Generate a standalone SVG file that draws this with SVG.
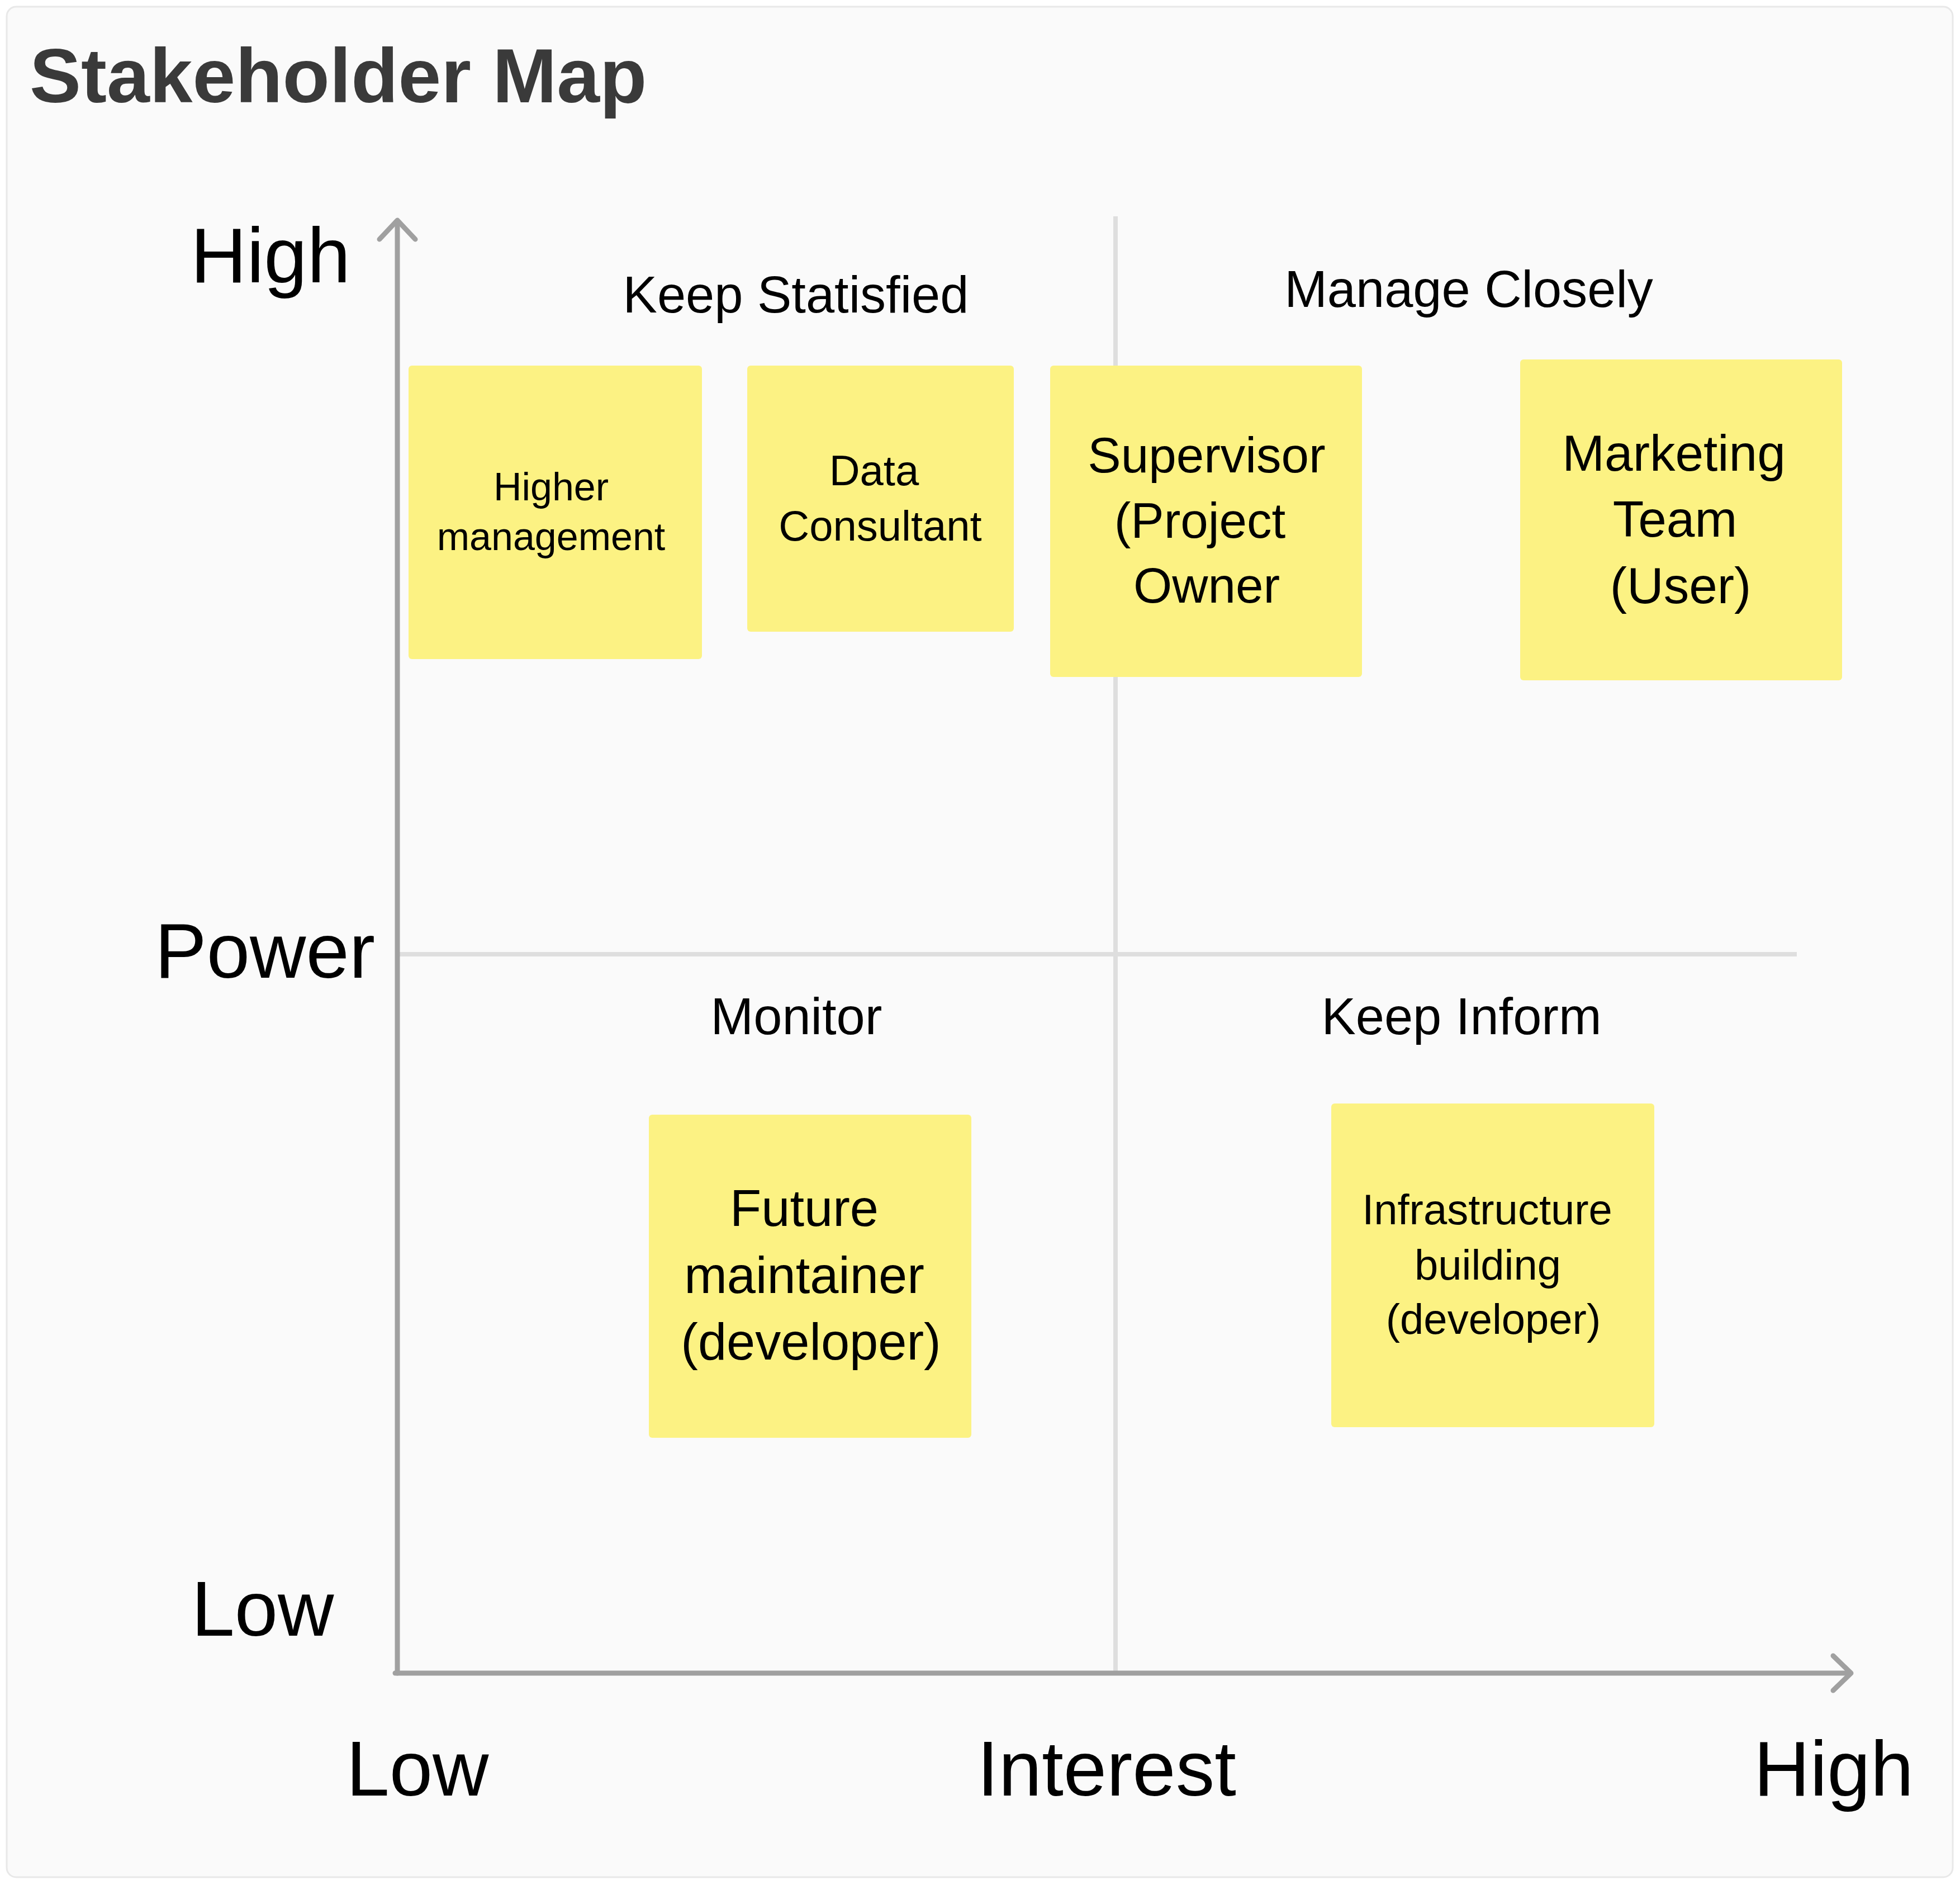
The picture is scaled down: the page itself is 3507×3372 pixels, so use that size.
<svg xmlns="http://www.w3.org/2000/svg" width="3507" height="3372" viewBox="0 0 3507 3372">
  <defs>
    <style>
      .t { font-family: "Liberation Sans", Arial, sans-serif; fill: #000000; }
      .title { font-family: "Liberation Sans", Arial, sans-serif; font-weight: bold; font-size: 138px; fill: #3a3a3a; }
      .axis-label { font-size: 139px; text-anchor: middle; }
      .quad { font-size: 92px; text-anchor: middle; }
      .note rect { fill: #fcf283; }
      .note text { text-anchor: middle; }
      .axis { stroke: #a0a0a0; stroke-width: 9; fill: none; stroke-linecap: round; stroke-linejoin: round; }
      .divider { stroke: #dedede; stroke-width: 8; fill: none; }
    </style>
  </defs>

  <rect x="0" y="0" width="3507" height="3372" fill="#ffffff"/>
  <rect id="board" x="12" y="12" width="3482" height="3346" rx="17" ry="17" fill="#fafafa" stroke="#e8e8e8" stroke-width="3"/>

  <text id="title" class="title" x="53" y="183">Stakeholder Map</text>

  <g id="connectors">
    <line class="divider" x1="1996" y1="387" x2="1996" y2="2993"/>
    <line class="divider" x1="711" y1="1707" x2="3215" y2="1707"/>
    <path class="axis" d="M711,2993 L711,396"/>
    <path class="axis" d="M679,428 L711,394 L743,428"/>
    <path class="axis" d="M707,2993 L3310,2993"/>
    <path class="axis" d="M3280,2962 L3312,2993 L3280,3024"/>
  </g>

  <g id="axis-labels">
    <text class="t axis-label" x="484" y="505">High</text>
    <text class="t axis-label" x="474" y="1749">Power</text>
    <text class="t axis-label" x="470" y="2926">Low</text>
    <text class="t axis-label" x="747" y="3212">Low</text>
    <text class="t axis-label" x="1980" y="3212">Interest</text>
    <text class="t axis-label" x="3281" y="3212">High</text>
  </g>

  <g id="quadrant-labels">
    <text class="t quad" x="1424" y="559">Keep Statisfied</text>
    <text class="t quad" x="2628" y="549">Manage Closely</text>
    <text class="t quad" x="1425" y="1850">Monitor</text>
    <text class="t quad" x="2615" y="1850">Keep Inform</text>
  </g>

  <g id="note-higher-management" class="note">
    <rect x="731" y="654" width="525" height="525" rx="6" ry="6"/>
    <text class="t" font-size="70" x="986" y="895">Higher</text>
    <text class="t" font-size="70" x="986" y="984">management</text>
  </g>

  <g id="note-data-consultant" class="note">
    <rect x="1337" y="654" width="477" height="476" rx="6" ry="6"/>
    <text class="t" font-size="76" x="1564" y="868">Data</text>
    <text class="t" font-size="76" x="1575" y="967">Consultant</text>
  </g>

  <g id="note-supervisor" class="note">
    <rect x="1879" y="654" width="558" height="557" rx="6" ry="6"/>
    <text class="t" font-size="89" x="2159" y="845">Supervisor</text>
    <text class="t" font-size="89" x="2147" y="962">(Project</text>
    <text class="t" font-size="89" x="2159" y="1078">Owner</text>
  </g>

  <g id="note-marketing-team" class="note">
    <rect x="2720" y="643" width="576" height="574" rx="6" ry="6"/>
    <text class="t" font-size="91" x="2995" y="842">Marketing</text>
    <text class="t" font-size="91" x="2997" y="960">Team</text>
    <text class="t" font-size="91" x="3007" y="1079">(User)</text>
  </g>

  <g id="note-future-maintainer" class="note">
    <rect x="1161" y="1994" width="577" height="578" rx="6" ry="6"/>
    <text class="t" font-size="92" x="1439" y="2193">Future</text>
    <text class="t" font-size="92" x="1439" y="2313">maintainer</text>
    <text class="t" font-size="92" x="1451" y="2432">(developer)</text>
  </g>

  <g id="note-infrastructure" class="note">
    <rect x="2382" y="1974" width="578" height="579" rx="6" ry="6"/>
    <text class="t" font-size="76" x="2661" y="2190">Infrastructure</text>
    <text class="t" font-size="76" x="2662" y="2289">building</text>
    <text class="t" font-size="76" x="2672" y="2386">(developer)</text>
  </g>
</svg>
